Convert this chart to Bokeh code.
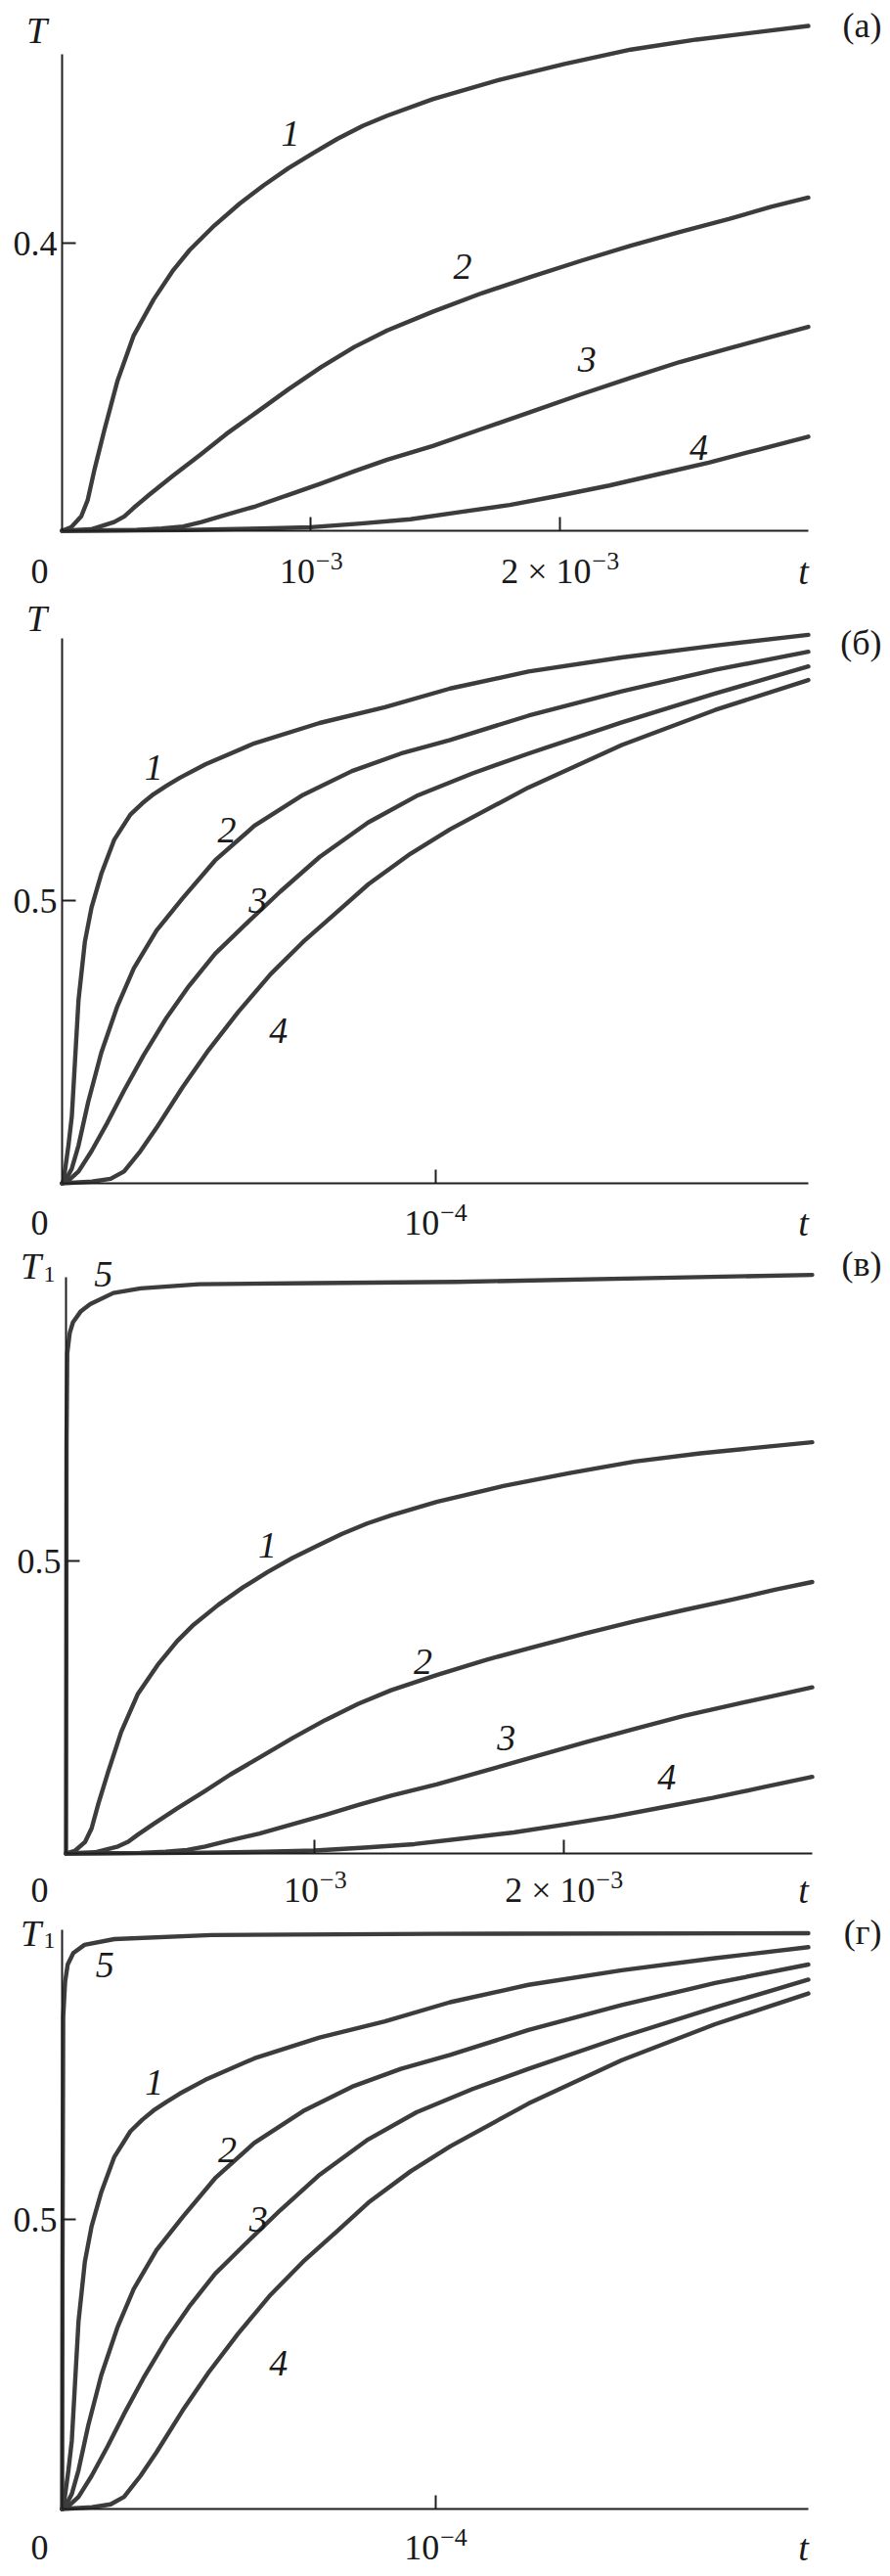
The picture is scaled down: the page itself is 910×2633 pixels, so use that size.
from bokeh.plotting import figure
from bokeh.models import Label, FixedTicker, Range1d
from bokeh.layouts import column
from bokeh.embed import file_html
from bokeh.resources import INLINE

# ---------------- data ----------------
# panels (а) and (в): t in units of 1e-3
MS = 1e-3
a1_t = [0, 0.037, 0.077, 0.103, 0.13, 0.169, 0.222, 0.288, 0.368, 0.447, 0.513, 0.612, 0.712, 0.81, 0.91, 1.01, 1.108, 1.21, 1.307, 1.49, 1.758, 2.02, 2.286, 2.55, 2.81, 3.0]
a1_T = [0, 0.005, 0.02, 0.043, 0.085, 0.139, 0.208, 0.272, 0.322, 0.363, 0.391, 0.425, 0.455, 0.481, 0.505, 0.526, 0.546, 0.564, 0.578, 0.601, 0.628, 0.650, 0.670, 0.684, 0.695, 0.703]
a2_t = [0, 0.116, 0.209, 0.25, 0.288, 0.35, 0.447, 0.556, 0.661, 0.778, 0.91, 1.042, 1.175, 1.307, 1.49, 1.689, 1.889, 2.087, 2.286, 2.483, 2.68, 2.85, 3.0]
a2_T = [0, 0.002, 0.012, 0.02, 0.032, 0.05, 0.077, 0.106, 0.135, 0.164, 0.197, 0.228, 0.256, 0.279, 0.305, 0.331, 0.354, 0.376, 0.397, 0.416, 0.434, 0.451, 0.464]
a3_t = [0, 0.3, 0.4, 0.487, 0.56, 0.646, 0.778, 0.91, 1.042, 1.175, 1.307, 1.49, 1.689, 1.889, 2.087, 2.286, 2.483, 2.68, 2.85, 3.0]
a3_T = [0, 0.001, 0.003, 0.006, 0.012, 0.021, 0.034, 0.05, 0.066, 0.083, 0.099, 0.118, 0.142, 0.166, 0.19, 0.213, 0.235, 0.254, 0.27, 0.284]
a4_t = [0, 0.5, 0.8, 1.0, 1.2, 1.4, 1.6, 1.8, 2.0, 2.2, 2.4, 2.6, 2.8, 3.0]
a4_T = [0, 0.001, 0.003, 0.005, 0.01, 0.016, 0.026, 0.036, 0.049, 0.063, 0.079, 0.095, 0.113, 0.131]
# curve 5 of panel (в)
v5_t = [0, 0.001, 0.002, 0.005, 0.015, 0.028, 0.06, 0.097, 0.19, 0.3, 0.535, 1.0, 1.57, 2.3, 3.0]
v5_T = [0, 0.3, 0.7, 0.855, 0.89, 0.908, 0.927, 0.939, 0.958, 0.966, 0.973, 0.975, 0.977, 0.983, 0.989]

# panels (б) and (г): t in units of 1e-4
US = 1e-4
b1_t = [0, 0.004, 0.017, 0.026, 0.035, 0.044, 0.061, 0.079, 0.105, 0.14, 0.183, 0.215, 0.245, 0.28, 0.315, 0.384, 0.515, 0.69, 0.865, 1.04, 1.25, 1.5, 1.75, 2.0]
b1_T = [0, 0.005, 0.067, 0.118, 0.221, 0.324, 0.427, 0.488, 0.547, 0.608, 0.652, 0.672, 0.688, 0.703, 0.717, 0.741, 0.778, 0.814, 0.842, 0.875, 0.905, 0.93, 0.951, 0.97]
b2_t = [0, 0.009, 0.026, 0.044, 0.07, 0.105, 0.148, 0.192, 0.253, 0.323, 0.41, 0.515, 0.646, 0.777, 0.908, 1.04, 1.25, 1.5, 1.75, 2.0]
b2_T = [0, 0.005, 0.026, 0.067, 0.144, 0.231, 0.313, 0.380, 0.447, 0.504, 0.571, 0.632, 0.687, 0.729, 0.760, 0.784, 0.827, 0.870, 0.908, 0.94]
b3_t = [0, 0.017, 0.044, 0.079, 0.122, 0.166, 0.218, 0.28, 0.34, 0.41, 0.49, 0.585, 0.69, 0.82, 0.95, 1.1, 1.25, 1.5, 1.75, 2.0]
b3_T = [0, 0.005, 0.021, 0.057, 0.108, 0.164, 0.226, 0.293, 0.349, 0.406, 0.457, 0.516, 0.577, 0.638, 0.685, 0.725, 0.76, 0.815, 0.866, 0.914]
b4_t = [0, 0.08, 0.13, 0.166, 0.21, 0.253, 0.323, 0.393, 0.472, 0.559, 0.646, 0.734, 0.821, 0.934, 1.04, 1.25, 1.5, 1.75, 2.0]
b4_T = [0, 0.003, 0.008, 0.021, 0.057, 0.098, 0.170, 0.236, 0.303, 0.370, 0.427, 0.478, 0.529, 0.583, 0.626, 0.700, 0.775, 0.837, 0.89]
# curve 5 of panel (г)
g5_t = [0, 0.001, 0.003, 0.008, 0.015, 0.03, 0.06, 0.14, 0.4, 1.0, 2.0]
g5_T = [0, 0.4, 0.85, 0.91, 0.94, 0.96, 0.974, 0.984, 0.991, 0.993, 0.994]

# curves 1-4 of (в) coincide with (а), curves 1-4 of (г) coincide with (б)
v1_t, v1_T, v2_t, v2_T = a1_t, a1_T, a2_t, a2_T
v3_t, v3_T, v4_t, v4_T = a3_t, a3_T, a4_t, a4_T
g1_t, g1_T, g2_t, g2_T = b1_t, b1_T, b2_t, b2_T
g3_t, g3_T, g4_t, g4_T = b3_t, b3_T, b4_t, b4_T

# tick labels: (value, base text, exponent)
xtick_ms = [(1e-3, "10", "\u22123"), (2e-3, "2 \u00d7 10", "\u22123")]
xtick_us = [(1e-4, "10", "\u22124")]

# ---------------- style ----------------
FONT = "Liberation Serif"
INK = "#3c3c3c"
AXC = "#1e1e1e"
TXT = "#1a1a1a"
W = 902
BASE = 36     # px, tick labels
SUP = 26      # px, exponents


def text_width(s, size):
    em = {" ": 0.25, "\u00d7": 0.564, "\u2212": 0.564}
    return sum(em.get(c, 0.5) for c in s) * size


def make_panel(top, bottom, fl, fr, xmax, y0, unit, y_axis_top, ytick, ticks):
    # page-pixel -> data helpers (used only to place texts and the ranges)
    def dx(px):
        return (px - fl) / (fr - fl) * xmax

    def dy(py):
        return (y0 - py) / unit

    p = figure(width=W, height=bottom - top,
               x_range=Range1d(dx(0), dx(W)), y_range=Range1d(dy(bottom), dy(top)),
               output_backend="svg", toolbar_location=None,
               min_border_left=0, min_border_right=0,
               min_border_top=0, min_border_bottom=0)
    p.grid.visible = False
    p.outline_line_color = None
    p.background_fill_color = "white"
    p.border_fill_color = "white"
    for ax in (p.xaxis, p.yaxis):
        ax.fixed_location = 0
        ax.axis_line_color = AXC
        ax.axis_line_width = 2
        ax.major_tick_line_color = AXC
        ax.major_tick_line_width = 2
        ax.major_tick_in = 14
        ax.major_tick_out = 0
        ax.minor_tick_line_color = None
        ax.major_label_text_font = FONT
        ax.major_label_text_font_size = f"{BASE}px"
        ax.major_label_text_color = TXT
    p.xaxis.bounds = (0, xmax)
    p.xaxis.ticker = FixedTicker(ticks=[t[0] for t in ticks])
    p.xaxis.major_label_text_color = None   # drawn below as base + exponent
    p.yaxis.ticker = FixedTicker(ticks=[ytick])
    p.yaxis.bounds = (0, y_axis_top)
    p.yaxis.major_label_standoff = 5
    return p, dx, dy


def lab(p, x, y, text, size=38, style="italic", align="center"):
    p.add_layout(Label(x=x, y=y, text=text, text_font=FONT, text_font_size=f"{size}px",
                       text_font_style=style, text_align=align,
                       text_baseline="middle", text_color=TXT))


def curves(p, series, scale):
    for t, T in series:
        p.line([v * scale for v in t], T, line_color=INK, line_width=4.4,
               line_join="round", line_cap="round")


def tick_row(p, dx, dy, fl, fr, xmax, row, ticks):
    lab(p, dx(40), dy(row), "0", size=BASE, style="normal")
    lab(p, dx(821), dy(row), "t", size=38)
    for tv, base, ex in ticks:
        cx = fl + tv / xmax * (fr - fl)
        wb, we = text_width(base, BASE), text_width(ex, SUP)
        left = cx - (wb + we) / 2
        lab(p, dx(left), dy(row), base, size=BASE, style="normal", align="left")
        lab(p, dx(left + wb + 1), dy(row - 10), ex, size=SUP, style="normal", align="left")


panels = []

# (а)
cfg = dict(top=0, bottom=606, fl=63, fr=826, xmax=3e-3, y0=542, unit=734)
p, dx, dy = make_panel(cfg["top"], cfg["bottom"], cfg["fl"], cfg["fr"], cfg["xmax"], cfg["y0"], cfg["unit"], 0.663, 0.4, xtick_ms)
curves(p, [(a1_t, a1_T), (a2_t, a2_T), (a3_t, a3_T), (a4_t, a4_T)], MS)
lab(p, dx(37), dy(30), "T")
lab(p, dx(901), dy(25), "(а)", size=36, style="normal", align="right")
for txt, tx, ty in [("1", 0.918e-3, 0.553), ("2", 1.61e-3, 0.368), ("3", 2.11e-3, 0.238), ("4", 2.56e-3, 0.116)]:
    lab(p, tx, ty, txt)
tick_row(p, dx, dy, cfg["fl"], cfg["fr"], cfg["xmax"], 583, xtick_ms)
panels.append(p)

# (б)
cfg = dict(top=606, bottom=1270, fl=63, fr=826, xmax=2e-4, y0=1209, unit=578)
p, dx, dy = make_panel(cfg["top"], cfg["bottom"], cfg["fl"], cfg["fr"], cfg["xmax"], cfg["y0"], cfg["unit"], 0.963, 0.5, xtick_us)
curves(p, [(b1_t, b1_T), (b2_t, b2_T), (b3_t, b3_T), (b4_t, b4_T)], US)
lab(p, dx(37), dy(631), "T")
lab(p, dx(901), dy(656), "(б)", size=36, style="normal", align="right")
for txt, tx, ty in [("1", 0.246e-4, 0.735), ("2", 0.442e-4, 0.625), ("3", 0.525e-4, 0.5), ("4", 0.58e-4, 0.27)]:
    lab(p, tx, ty, txt)
tick_row(p, dx, dy, cfg["fl"], cfg["fr"], cfg["xmax"], 1249, xtick_us)
panels.append(p)

# (в)
cfg = dict(top=1270, bottom=1952, fl=67, fr=830, xmax=3e-3, y0=1894, unit=598)
p, dx, dy = make_panel(cfg["top"], cfg["bottom"], cfg["fl"], cfg["fr"], cfg["xmax"], cfg["y0"], cfg["unit"], 0.985, 0.5, xtick_ms)
curves(p, [(v1_t, v1_T), (v2_t, v2_T), (v3_t, v3_T), (v4_t, v4_T), (v5_t, v5_T)], MS)
lab(p, dx(31), dy(1293), "T")
lab(p, dx(50), dy(1302), "1", size=24, style="normal")
lab(p, dx(901), dy(1291), "(в)", size=36, style="normal", align="right")
for txt, tx, ty in [("5", 0.15e-3, 0.99), ("1", 0.81e-3, 0.527), ("2", 1.435e-3, 0.328), ("3", 1.77e-3, 0.198), ("4", 2.415e-3, 0.13)]:
    lab(p, tx, ty, txt)
tick_row(p, dx, dy, cfg["fl"], cfg["fr"], cfg["xmax"], 1931, xtick_ms)
panels.append(p)

# (г)
cfg = dict(top=1952, bottom=2625, fl=63, fr=826, xmax=2e-4, y0=2564, unit=592)
p, dx, dy = make_panel(cfg["top"], cfg["bottom"], cfg["fl"], cfg["fr"], cfg["xmax"], cfg["y0"], cfg["unit"], 1.0, 0.5, xtick_us)
curves(p, [(g1_t, g1_T), (g2_t, g2_T), (g3_t, g3_T), (g4_t, g4_T), (g5_t, g5_T)], US)
lab(p, dx(31), dy(1975), "T")
lab(p, dx(50), dy(1983), "1", size=24, style="normal")
lab(p, dx(901), dy(1974), "(г)", size=36, style="normal", align="right")
for txt, tx, ty in [("5", 0.115e-4, 0.94), ("1", 0.247e-4, 0.736), ("2", 0.443e-4, 0.62), ("3", 0.526e-4, 0.5), ("4", 0.58e-4, 0.252)]:
    lab(p, tx, ty, txt)
tick_row(p, dx, dy, cfg["fl"], cfg["fr"], cfg["xmax"], 2603, xtick_us)
panels.append(p)

layout = column(*panels, spacing=0)
open("out.html", "w").write(file_html(layout, INLINE))
